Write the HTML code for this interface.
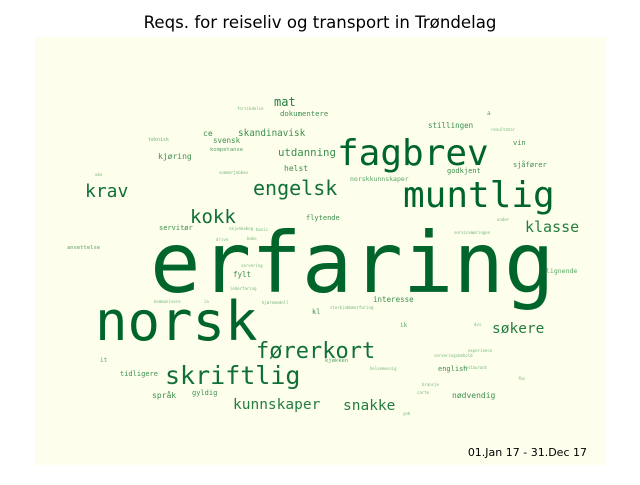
<!DOCTYPE html>
<html><head><meta charset="utf-8"><style>
html,body{margin:0;padding:0;background:#fff;}
svg text{font-family:"DejaVu Sans Mono","Liberation Mono",monospace;}
</style></head><body>
<svg width="640" height="480" viewBox="0 0 640 480" xmlns="http://www.w3.org/2000/svg">
<text x="320" y="28" text-anchor="middle" font-size="16.6" style="font-family:'DejaVu Sans','Liberation Sans',sans-serif" fill="#000">Reqs. for reiseliv og transport in Trøndelag</text>
<rect x="35" y="37" width="571" height="428" fill="#fdfeec"/>
<g id="cloud"></g>
<text x="587" y="456" text-anchor="end" font-size="11" style="font-family:'DejaVu Sans','Liberation Sans',sans-serif" fill="#000">01.Jan 17 - 31.Dec 17</text>
</svg>
<script>
const words = ["erfaring","norsk","fagbrev","muntlig","skriftlig","førerkort","engelsk","krav","kokk","klasse","søkere","snakke","kunnskaper","mat","skandinavisk","utdanning","dokumentere","stillingen","ce","svensk","kjøring","helst","flytende","servitør","fylt","kl","tidligere","språk","gyldig","interesse","nødvendig","lignende","english","vin","sjåfører","godkjent","norskkunnskaper","teknisk","kompetanse","ansettelse","kjøkken","it","ik","a","forsikdelse","uke","sommerjobben","skjenkebog","basic","bake","drive","resultater","under","servicemøringen","servering","lederfaring","kommunisere","la","kjøremodell","sterkjobbmerfaring","dvs","experience","serveringsbehold","helsemessig","restaurant","fbs","bransje","carte","yob"];
const sizes = [84,54,36,36,25,22,20,18,19,15,14.5,14.5,14.5,12,9.3,10.7,7.3,7.5,8,7.5,8,8,7,7,7.5,7,7,8,7,7.5,8,6.5,7,7,7,7,6.5,5,5.5,5.5,5.5,6,6,6,4,4,4,4,4,4,4,4,4,4,4,4,4,4,4,4,4,4,4,4,4,4,4,4,4];
const xs = [150,95,337,403,165,256,253,85,190,525,492,343,233,274,238,278,280,428,203,213,158,284,306,159,233,312,120,152,192,373,452,546,438,513,513,447,350,148,210,67,325,100,400,487,237,95,219,229,256,247,216,491,497,454,241,230,154,204,262,330,474,468,434,370,463,518,422,417,403];
const ys = [292,340,165,207,384,358,195,197,223,232,333,410,409,106,136,156,116,128,136,143,159,171,220,230,277,314,376,398,395,302,398,273,371,145,167,173,181,141,151,249,362,362,327,115,110,176,174,230,231,240,241,131,221,234,267,290,303,303,304,309,326,352,357,370,369,380,386,394,415];
const ns = "http://www.w3.org/2000/svg";
const g = document.getElementById('cloud');
function colorFor(s){ if(s>=30) return "#00652b"; if(s>=17) return "#11703a"; if(s>=12) return "#237d3f"; if(s>=7) return "#3d8f4e"; if(s>=5.5) return "#5aa466"; return "#78b87c"; }
for(let i=0;i<words.length;i++){
  const t=document.createElementNS(ns,'text');
  t.setAttribute('x',xs[i]);
  t.setAttribute('y',ys[i]);
  t.setAttribute('font-size',sizes[i]);
  t.setAttribute('fill',colorFor(sizes[i]));
  t.textContent=words[i];
  
  
  g.appendChild(t);
}
</script>
</body></html>
